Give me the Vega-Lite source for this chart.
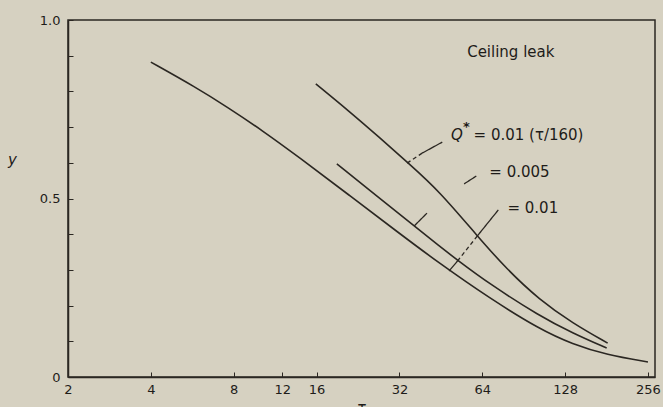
{
  "$schema": "https://vega.github.io/schema/vega-lite/v6.json",
  "width": 587,
  "height": 357,
  "autosize": {"type": "none"},
  "padding": {"left": 68, "top": 20, "right": 8, "bottom": 30},
  "background": "#d6d1c1",
  "config": {
    "view": {"stroke": "#2b2722", "strokeWidth": 1.5},
    "font": "DejaVu Sans",
    "axis": {"labelFont": "DejaVu Sans", "labelColor": "#1e1c19", "domainColor": "#2b2722", "tickColor": "#2b2722", "grid": false, "domainWidth": 1.5, "labelOverlap": false}
  },
  "datasets": {
    "curves": [
      {"curve": "a", "t": 4.0, "y": 0.882},
      {"curve": "a", "t": 5.81, "y": 0.812},
      {"curve": "a", "t": 7.66, "y": 0.754},
      {"curve": "a", "t": 10.1, "y": 0.692},
      {"curve": "a", "t": 13.8, "y": 0.616},
      {"curve": "a", "t": 20.97, "y": 0.51},
      {"curve": "a", "t": 31.9, "y": 0.403},
      {"curve": "a", "t": 44.6, "y": 0.319},
      {"curve": "a", "t": 67.9, "y": 0.221},
      {"curve": "a", "t": 103.3, "y": 0.134},
      {"curve": "a", "t": 136.2, "y": 0.092},
      {"curve": "a", "t": 181.2, "y": 0.062},
      {"curve": "a", "t": 256, "y": 0.042},
      {"curve": "b", "t": 18.96, "y": 0.597},
      {"curve": "b", "t": 27.65, "y": 0.496},
      {"curve": "b", "t": 36.2, "y": 0.423},
      {"curve": "b", "t": 44.6, "y": 0.367},
      {"curve": "b", "t": 51.9, "y": 0.328},
      {"curve": "b", "t": 67.9, "y": 0.261},
      {"curve": "b", "t": 103.3, "y": 0.171},
      {"curve": "b", "t": 136.2, "y": 0.123},
      {"curve": "b", "t": 181.2, "y": 0.081},
      {"curve": "c", "t": 15.9, "y": 0.821},
      {"curve": "c", "t": 20.97, "y": 0.745},
      {"curve": "c", "t": 26.97, "y": 0.672},
      {"curve": "c", "t": 34.7, "y": 0.597},
      {"curve": "c", "t": 44.6, "y": 0.521},
      {"curve": "c", "t": 61.4, "y": 0.395},
      {"curve": "c", "t": 78.3, "y": 0.303},
      {"curve": "c", "t": 103.3, "y": 0.216},
      {"curve": "c", "t": 136.2, "y": 0.151},
      {"curve": "c", "t": 182.7, "y": 0.095}
    ],
    "leaders": [
      {"style": "solid", "t": 45.8, "y": 0.658, "t2": 38.7, "y2": 0.627},
      {"style": "dashed", "t": 38.7, "y": 0.627, "t2": 34.1, "y2": 0.599},
      {"style": "solid", "t": 60.9, "y": 0.563, "t2": 55.0, "y2": 0.541},
      {"style": "solid", "t": 40.3, "y": 0.459, "t2": 36.2, "y2": 0.423},
      {"style": "solid", "t": 73.2, "y": 0.468, "t2": 61.4, "y2": 0.395},
      {"style": "dashed", "t": 61.4, "y": 0.395, "t2": 52.3, "y2": 0.327},
      {"style": "solid", "t": 52.3, "y": 0.327, "t2": 48.5, "y2": 0.297}
    ],
    "labels": [
      {"label": "Ceiling leak", "t": 56.4, "y": 0.91},
      {"label": "= 0.01 (τ/160)", "t": 59.5, "y": 0.678},
      {"label": "= 0.005", "t": 67.9, "y": 0.574},
      {"label": "= 0.01", "t": 79.0, "y": 0.473}
    ],
    "qlabels": [
      {"label": "Q", "t": 49.3, "y": 0.678}
    ],
    "stars": [
      {"label": "*", "t": 54.5, "y": 0.7}
    ]
  },
  "layer": [
    {
      "data": {"name": "curves"},
      "mark": {"type": "line", "interpolate": "basis", "color": "#2b2722", "strokeWidth": 1.6},
      "encoding": {
        "x": {"field": "t", "type": "quantitative",
              "scale": {"type": "log", "base": 2, "domain": [2, 271.5], "nice": false},
              "axis": {"values": [2, 4, 8, 12, 16, 32, 64, 128, 256], "tickCount": 20, "labelExpr": "datum.value", "tickSize": -5, "labelPadding": 11, "labelFontSize": 13, "labelFlush": false, "title": "τ", "titleFontSize": 15, "titleFontWeight": "normal", "titlePadding": 4, "titleColor": "#1e1c19"}},
        "y": {"field": "y", "type": "quantitative",
              "scale": {"domain": [0, 1], "nice": false},
              "axis": {"values": [0, 0.1, 0.2, 0.3, 0.4, 0.5, 0.6, 0.7, 0.8, 0.9, 1.0], "tickCount": 20, "labelExpr": "datum.value == 0 ? '0' : (abs(datum.value - 0.5) < 0.001 ? '0.5' : (datum.value == 1 ? '1.0' : ''))", "tickSize": -5, "labelPadding": 13, "labelFontSize": 13, "title": "y", "titleAngle": 0, "titleX": -56, "titleY": 147, "titleFontSize": 15, "titleFontStyle": "italic", "titleFontWeight": "normal", "titleColor": "#1e1c19"}},
        "detail": {"field": "curve"}
      }
    },
    {
      "data": {"name": "leaders"},
      "mark": {"type": "rule", "color": "#2b2722", "strokeWidth": 1.3},
      "encoding": {
        "x": {"field": "t", "type": "quantitative"},
        "y": {"field": "y", "type": "quantitative"},
        "x2": {"field": "t2"},
        "y2": {"field": "y2"},
        "strokeDash": {"field": "style", "type": "nominal", "scale": {"domain": ["solid", "dashed"], "range": [[1, 0], [4, 3]]}, "legend": null}
      }
    },
    {
      "data": {"name": "labels"},
      "mark": {"type": "text", "align": "left", "baseline": "middle", "fontSize": 15, "color": "#1e1c19", "font": "DejaVu Sans"},
      "encoding": {
        "x": {"field": "t", "type": "quantitative"},
        "y": {"field": "y", "type": "quantitative"},
        "text": {"field": "label"}
      }
    },
    {
      "data": {"name": "qlabels"},
      "mark": {"type": "text", "align": "left", "baseline": "middle", "fontSize": 15, "fontStyle": "italic", "color": "#1e1c19", "font": "DejaVu Sans"},
      "encoding": {
        "x": {"field": "t", "type": "quantitative"},
        "y": {"field": "y", "type": "quantitative"},
        "text": {"field": "label"}
      }
    },
    {
      "data": {"name": "stars"},
      "mark": {"type": "text", "align": "left", "baseline": "middle", "fontSize": 13, "fontWeight": "bold", "color": "#1e1c19", "font": "DejaVu Sans"},
      "encoding": {
        "x": {"field": "t", "type": "quantitative"},
        "y": {"field": "y", "type": "quantitative"},
        "text": {"field": "label"}
      }
    }
  ]
}
